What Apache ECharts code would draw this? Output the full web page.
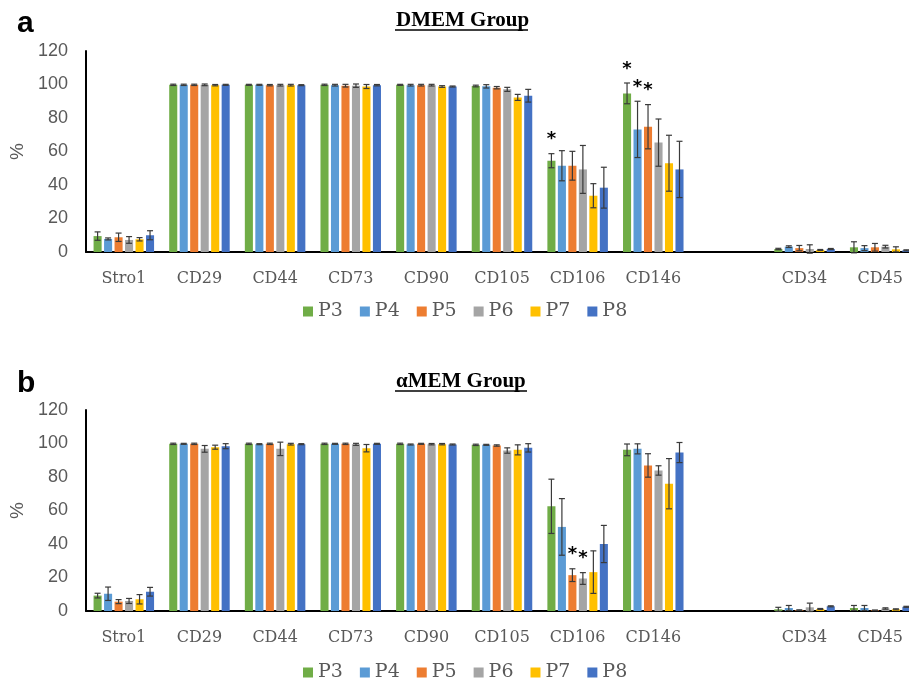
<!DOCTYPE html>
<html>
<head>
<meta charset="utf-8">
<script src="https://cdn.jsdelivr.net/npm/echarts@6/dist/echarts.min.js"></script>
<style>
  html, body { margin: 0; padding: 0; background: #fff; }
  #chart { width: 909px; height: 681px; }
</style>
</head>
<body>
<div id="chart"></div>
<script>
/* ---------------------------- data ---------------------------- */
const categories = ['Stro1', 'CD29', 'CD44', 'CD73', 'CD90', 'CD105', 'CD106', 'CD146', '', 'CD34', 'CD45'];
const passages = ['P3', 'P4', 'P5', 'P6', 'P7', 'P8'];
const colors = ['#70AD47', '#5B9BD5', '#ED7D31', '#A5A5A5', '#FFC000', '#4472C4'];

// DMEM group, mean %
const dmemP3 = [9.5, 99.8, 99.8, 99.8, 99.8, 99.1, 54.5, 94.7, null, 1.8, 2.8];
const dmemP4 = [7.8, 99.8, 99.8, 99.6, 99.6, 98.9, 51.5, 73.2, null, 3.2, 2.3];
const dmemP5 = [8.8, 99.8, 99.6, 99.3, 99.6, 98.1, 51.5, 74.8, null, 2.3, 2.8];
const dmemP6 = [7.2, 99.8, 99.6, 99.3, 99.6, 97.1, 49.3, 65.3, null, 1.8, 3.2];
const dmemP7 = [7.6, 99.6, 99.6, 98.8, 98.8, 92.3, 33.6, 53.0, null, 1.2, 1.6];
const dmemP8 = [10.0, 99.8, 99.6, 99.6, 98.8, 93.3, 38.4, 49.3, null, 1.8, 1.0];
// DMEM group, error (+/-)
const dmemErrP3 = [2.5, 0.4, 0.3, 0.4, 0.3, 0.5, 4.2, 6.2, null, 0.4, 3.3];
const dmemErrP4 = [0.6, 0.4, 0.3, 0.5, 0.5, 1.0, 9.0, 16.8, null, 0.5, 1.5];
const dmemErrP5 = [2.5, 0.4, 0.4, 0.8, 0.5, 0.7, 8.6, 13.2, null, 1.6, 2.3];
const dmemErrP6 = [2.0, 0.5, 0.5, 1.0, 0.5, 1.2, 14.3, 14.1, null, 2.5, 0.8];
const dmemErrP7 = [1.0, 0.4, 0.5, 1.2, 0.5, 1.8, 7.2, 16.7, null, 0.3, 1.5];
const dmemErrP8 = [2.7, 0.3, 0.3, 0.4, 0.3, 3.8, 12.2, 16.8, null, 0.3, 0.3];

// alphaMEM group, mean %
const amemP3 = [9.2, 99.8, 99.8, 99.8, 99.8, 99.2, 62.5, 96.2, null, 1.0, 1.8];
const amemP4 = [10.3, 99.8, 99.6, 99.8, 99.4, 99.2, 50.2, 96.8, null, 1.8, 1.8];
const amemP5 = [5.6, 99.8, 99.8, 99.8, 99.8, 98.8, 21.4, 86.9, null, 0.5, 0.4];
const amemP6 = [6.0, 96.8, 96.8, 99.5, 99.6, 95.8, 19.4, 83.9, null, 2.2, 1.5];
const amemP7 = [7.0, 97.8, 99.6, 97.2, 99.6, 96.2, 23.2, 76.0, null, 1.2, 1.0];
const amemP8 = [11.5, 98.4, 99.6, 99.8, 99.4, 97.4, 40.0, 94.6, null, 2.8, 2.5];
// alphaMEM group, error (+/-)
const amemErrP3 = [1.4, 0.4, 0.4, 0.4, 0.4, 0.4, 16.2, 3.5, null, 1.2, 1.5];
const amemErrP4 = [4.0, 0.3, 0.3, 0.3, 0.3, 0.3, 16.9, 3.0, null, 1.5, 1.5];
const amemErrP5 = [1.2, 0.4, 0.4, 0.4, 0.3, 0.4, 3.8, 7.0, null, 0.2, 0.2];
const amemErrP6 = [1.5, 2.0, 4.0, 0.6, 0.4, 1.6, 3.5, 2.8, null, 2.5, 0.4];
const amemErrP7 = [2.8, 1.2, 0.5, 2.2, 0.4, 3.0, 12.7, 15.0, null, 0.3, 0.3];
const amemErrP8 = [2.6, 1.5, 0.3, 0.3, 0.3, 2.5, 11.1, 6.0, null, 0.3, 0.3];

// significance marks: [category, passage]
const dmemStars = [['CD106', 'P3'], ['CD146', 'P3'], ['CD146', 'P4'], ['CD146', 'P5']];
const amemStars = [['CD106', 'P5'], ['CD106', 'P6']];

const yTicks = { min: 0, max: 120, interval: 20 };

/* --------------------------- helpers --------------------------- */
const CAT_GAP = 0.2;
const BAR_GAP = 0.3;

const errorRenderer = (seriesIdx) => (params, api) => {
  const cat = api.value(0);
  const lo = api.value(1);
  const hi = api.value(2);
  const star = api.value(3);
  const band = api.size([1, 0])[0];
  const total = band * (1 - CAT_GAP);
  const bw = total / (6 + 5 * BAR_GAP);
  const off = -total / 2 + bw / 2 + seriesIdx * bw * (1 + BAR_GAP);
  const top = api.coord([cat, hi]);
  const bot = api.coord([cat, lo]);
  const x = top[0] + off;
  const cap = 3;
  const st = { stroke: '#3a3a3a', lineWidth: 1.2 };
  const children = [
    { type: 'line', shape: { x1: x, y1: top[1], x2: x, y2: bot[1] }, style: st },
    { type: 'line', shape: { x1: x - cap, y1: top[1], x2: x + cap, y2: top[1] }, style: st },
    { type: 'line', shape: { x1: x - cap, y1: bot[1], x2: x + cap, y2: bot[1] }, style: st }
  ];
  if (star) {
    children.push({
      type: 'text',
      style: {
        text: '*', x: x, y: top[1] - 14,
        font: 'bold 18px "DejaVu Sans"', fill: '#000',
        align: 'center', verticalAlign: 'middle'
      }
    });
  }
  return { type: 'group', children: children };
};

const buildPanel = (gridIdx, means, errs, stars, series) => {
  passages.forEach((p, i) => {
    series.push({
      name: p,
      type: 'bar',
      xAxisIndex: gridIdx,
      yAxisIndex: gridIdx,
      data: means[i],
      barGap: (BAR_GAP * 100) + '%',
      barCategoryGap: (CAT_GAP * 100) + '%',
      itemStyle: { color: colors[i] },
      animation: false
    });
    const errData = [];
    means[i].forEach((v, c) => {
      if (v == null) return;
      const starred = stars.some(s => s[0] === categories[c] && s[1] === p) ? 1 : 0;
      errData.push([c, v - errs[i][c], v + errs[i][c], starred]);
    });
    series.push({
      name: p + ' error',
      type: 'custom',
      xAxisIndex: gridIdx,
      yAxisIndex: gridIdx,
      renderItem: errorRenderer(i),
      encode: { x: 0, y: [1, 2] },
      data: errData,
      z: 10,
      silent: true,
      animation: false
    });
  });
};

const series = [];
buildPanel(0, [dmemP3, dmemP4, dmemP5, dmemP6, dmemP7, dmemP8],
  [dmemErrP3, dmemErrP4, dmemErrP5, dmemErrP6, dmemErrP7, dmemErrP8], dmemStars, series);
buildPanel(1, [amemP3, amemP4, amemP5, amemP6, amemP7, amemP8],
  [amemErrP3, amemErrP4, amemErrP5, amemErrP6, amemErrP7, amemErrP8], amemStars, series);

const xAxisBase = (gridIndex) => ({
  type: 'category',
  gridIndex: gridIndex,
  data: categories,
  axisTick: { show: false },
  axisLine: { lineStyle: { color: '#000', width: 2 } },
  axisLabel: { color: '#595959', fontFamily: 'DejaVu Serif', fontSize: 16, margin: 19, interval: 0 }
});

const yAxisBase = (gridIndex) => ({
  type: 'value',
  gridIndex: gridIndex,
  min: yTicks.min,
  max: yTicks.max,
  interval: yTicks.interval,
  name: '%',
  nameLocation: 'middle',
  nameGap: 58,
  nameRotate: 90,
  nameTextStyle: { color: '#595959', fontFamily: 'Liberation Sans', fontSize: 19 },
  axisLine: { show: true, lineStyle: { color: '#000', width: 2 } },
  axisTick: { show: false },
  splitLine: { show: false },
  axisLabel: { color: '#595959', fontFamily: 'Liberation Sans', fontSize: 18, margin: 18 }
});

const legendBase = (top) => ({
  top: top,
  left: 303,
  data: passages,
  icon: 'rect',
  itemWidth: 10,
  itemHeight: 10,
  itemGap: 17,
  padding: 0,
  textStyle: { color: '#595959', fontFamily: 'DejaVu Serif', fontSize: 19 }
});

const titleStyle = { color: '#000', fontFamily: 'Liberation Serif', fontWeight: 'bold', fontSize: 21 };
const letterStyle = { color: '#000', fontFamily: 'Liberation Sans', fontWeight: 'bold', fontSize: 30 };

const chart = echarts.init(document.getElementById('chart'));
chart.setOption({
  backgroundColor: '#fff',
  animation: false,
  title: [
    { text: 'a', left: 12, top: 4, textStyle: letterStyle },
    { text: 'b', left: 12, top: 364, textStyle: letterStyle },
    { text: 'DMEM Group', left: 391, top: 5, textStyle: titleStyle },
    { text: 'αMEM Group', left: 391, top: 366, textStyle: titleStyle }
  ],
  graphic: [
    { type: 'line', shape: { x1: 395, y1: 30, x2: 528, y2: 30 }, style: { stroke: '#000', lineWidth: 1.5 } },
    { type: 'line', shape: { x1: 395, y1: 391, x2: 527, y2: 391 }, style: { stroke: '#000', lineWidth: 1.5 } }
  ],
  legend: [legendBase(302), legendBase(663)],
  grid: [
    { left: 86, top: 51, width: 832, height: 201, outerBoundsMode: 'none' },
    { left: 86, top: 410, width: 832, height: 201, outerBoundsMode: 'none' }
  ],
  xAxis: [xAxisBase(0), xAxisBase(1)],
  yAxis: [yAxisBase(0), yAxisBase(1)],
  series: series
});
</script>
</body>
</html>
